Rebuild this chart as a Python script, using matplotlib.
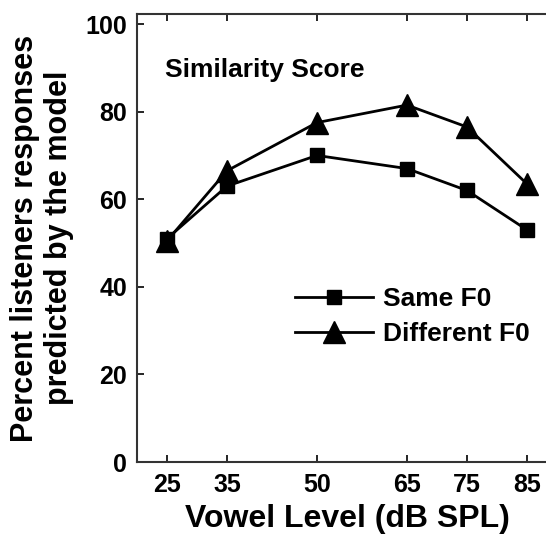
import matplotlib
matplotlib.use("Agg")
import matplotlib.pyplot as plt

levels = [25, 35, 50, 65, 75, 85]
same_f0 = [51, 63, 70, 67, 62, 53]
diff_f0 = [50.5, 66.5, 77.5, 81.5, 76.5, 63.5]
yticks = [0, 20, 40, 60, 80, 100]

plt.rcParams['font.family'] = ['Liberation Sans', 'DejaVu Sans']
plt.rcParams['font.weight'] = 'bold'

fig = plt.figure(figsize=(5.46, 5.44), dpi=100)
ax = fig.add_axes([0.2509, 0.1507, 0.7692, 0.8236])

ax.plot(levels, same_f0, color='black', lw=2, marker='s', ms=10, label='Same F0')
ax.plot(levels, diff_f0, color='black', lw=2, marker='^', ms=16, label='Different F0')

ax.set_xlim(20, 90)
ax.set_ylim(0, 102.3)
ax.set_xticks(levels)
ax.set_yticks(yticks)
ax.tick_params(direction='in', length=5, width=1.2, top=True, right=True,
               labelsize=18)
ax.tick_params(axis='x', pad=8)
ax.tick_params(axis='y', pad=7)
for lab in ax.get_xticklabels() + ax.get_yticklabels():
    lab.set_fontweight('bold')
for sp in ax.spines.values():
    sp.set_linewidth(1.5)
    sp.set_color('#333333')

ax.set_xlabel('Vowel Level (dB SPL)', fontsize=23, fontweight='bold', labelpad=5)
ax.set_ylabel('Percent listeners responses\npredicted by the model', fontsize=22,
              fontweight='bold', labelpad=8, linespacing=1.2)

ax.text(24.7, 88, 'Similarity Score', fontsize=19, fontweight='bold')

ax.legend(loc='upper left', bbox_to_anchor=(0.376, 0.39), frameon=False,
          fontsize=19, handlelength=2.95, handletextpad=0.38, labelspacing=0.4,
          borderpad=0, borderaxespad=0)

fig.savefig('out.png', dpi=100)
